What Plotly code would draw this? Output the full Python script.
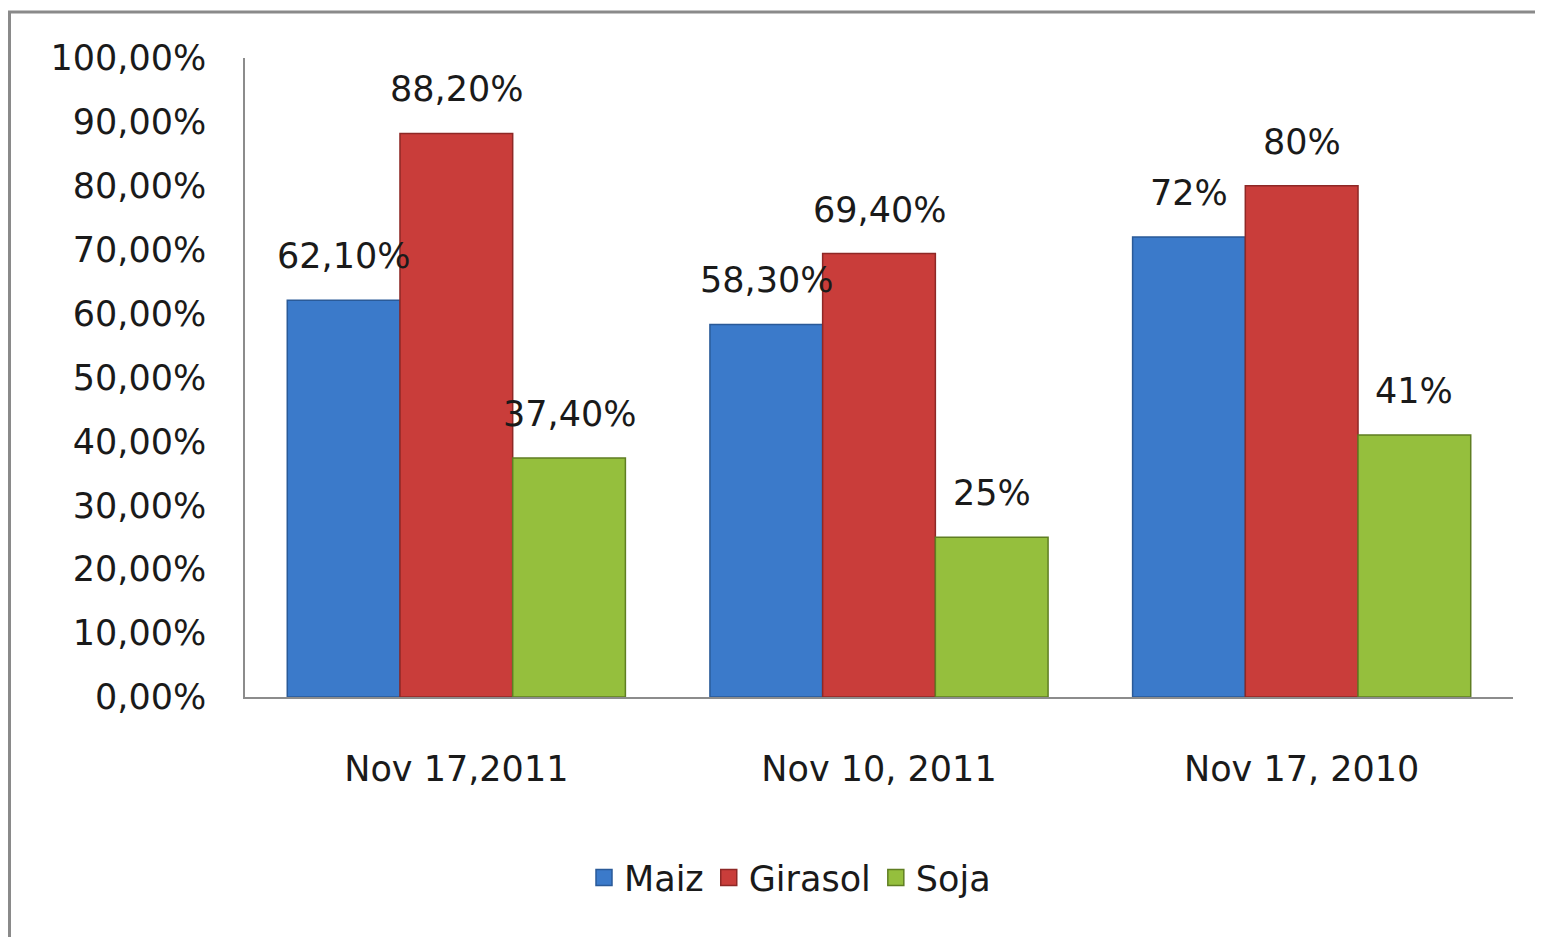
import plotly.graph_objects as go

categories = ["Nov 17,2011", "Nov 10, 2011", "Nov 17, 2010"]
series_names = ["Maiz", "Girasol", "Soja"]
maiz = [0.621, 0.583, 0.72]
girasol = [0.882, 0.694, 0.80]
soja = [0.374, 0.25, 0.41]
maiz_labels = ["62,10%", "58,30%", "72%"]
girasol_labels = ["88,20%", "69,40%", "80%"]
soja_labels = ["37,40%", "25%", "41%"]
tick_vals = [0, 0.1, 0.2, 0.3, 0.4, 0.5, 0.6, 0.7, 0.8, 0.9, 1.0]
tick_text = ["0,00%", "10,00%", "20,00%", "30,00%", "40,00%", "50,00%",
             "60,00%", "70,00%", "80,00%", "90,00%", "100,00%"]

colors = ["#3B7ACA", "#C93D3A", "#95BF3D"]
edge = ["#2A5A98", "#8E2826", "#5F7E22"]
values = [maiz, girasol, soja]
labels = [maiz_labels, girasol_labels, soja_labels]

FONT = "DejaVu Sans"
FS = 35
BARGAP = 0.2
W, H = 1535, 929
L, R, T, B = 237, 30, 50, 240
plot_w = W - L - R
plot_h = H - T - B

fig = go.Figure()
for name, vals, col, ec in zip(series_names, values, colors, edge):
    fig.add_trace(go.Bar(
        name=name, x=categories, y=vals, legendgroup=name, showlegend=False,
        marker=dict(color=col, line=dict(color=ec, width=1.5)),
        hoverinfo="skip",
    ))
# legend entries with larger square swatches
for name, col, ec in zip(series_names, colors, edge):
    fig.add_trace(go.Scatter(
        name=name, x=[None], y=[None], mode="markers", legendgroup=name,
        marker=dict(symbol="square", size=16, color=col, line=dict(color=ec, width=1.5)),
        hoverinfo="skip",
    ))

# data labels, positioned from the data through the category axis
n = len(series_names)
w = (1 - BARGAP) / n
annotations = []
for j, (vals, labs) in enumerate(zip(values, labels)):
    for i, (v, t) in enumerate(zip(vals, labs)):
        annotations.append(dict(
            x=i + (j - (n - 1) / 2) * w, y=v, xref="x", yref="y",
            text=t, showarrow=False, yanchor="bottom", yshift=22,
            font=dict(family=FONT, size=FS, color="#1a1a1a"),
        ))

fig.update_layout(
    width=W, height=H,
    paper_bgcolor="white", plot_bgcolor="white",
    margin=dict(l=L, r=R, t=T, b=B),
    barmode="group", bargap=BARGAP, bargroupgap=0,
    font=dict(family=FONT, size=FS, color="#1a1a1a"),
    showlegend=True,
    legend=dict(orientation="h", x=(782 - L) / plot_w, xanchor="center",
                y=-0.283, yanchor="middle", itemsizing="trace",
                font=dict(family=FONT, size=FS, color="#1a1a1a"),
                itemwidth=30, traceorder="normal"),
    annotations=annotations,
    shapes=[dict(type="rect", xref="paper", yref="paper",
                 x0=(1.5 - L) / plot_w, x1=1.2, y0=-0.6, y1=(plot_h + T - 4) / plot_h,
                 line=dict(color="#8a8a8a", width=3), fillcolor="rgba(0,0,0,0)",
                 layer="below")],
)
fig.update_yaxes(range=[0, 1], tickvals=tick_vals, ticktext=tick_text,
                 showgrid=False, zeroline=False, showline=True,
                 linecolor="#8c8c8c", linewidth=1.5, ticks="",
                 ticklabelstandoff=30,
                 tickfont=dict(family=FONT, size=FS, color="#1a1a1a"))
fig.update_xaxes(showgrid=False, showline=True, linecolor="#8c8c8c", linewidth=2,
                 ticks="", ticklabelstandoff=40,
                 tickfont=dict(family=FONT, size=FS, color="#1a1a1a"))

fig.write_html("out.html")
